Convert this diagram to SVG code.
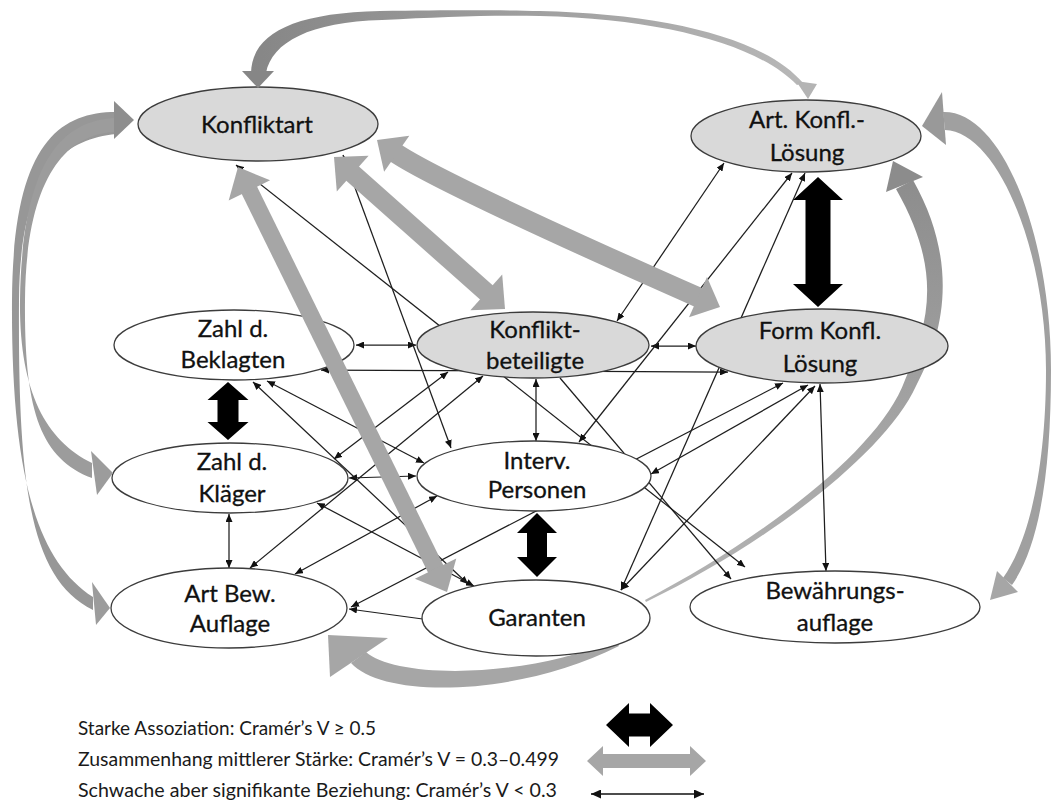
<svg xmlns="http://www.w3.org/2000/svg" width="1053" height="809" viewBox="0 0 1053 809">
  <defs>
    <style>
      .node ellipse { stroke: #3c3c3c; stroke-width: 1.3; }
      .grey ellipse { fill: #d9d9d9; }
      .white ellipse { fill: #ffffff; }
      .lbl { font-family: Lato, "Open Sans", "Liberation Sans", sans-serif; font-size: 24px; fill: #111; stroke: #111; stroke-width: 0.3; text-anchor: middle; }
      .leg { font-family: Lato, "Open Sans", "Liberation Sans", sans-serif; font-size: 18.5px; fill: #1a1a1a; }
      .thin { stroke: #1e1e1e; stroke-width: 1.25; fill: none; }
      .both { marker-start: url(#ah); marker-end: url(#ah); }
      .tip { marker-end: url(#ah); }
      .band { fill: #a6a6a6; }
      .bandline { stroke: #a6a6a6; fill: none; }
      .blk { fill: #000; }
    </style>
    <marker id="ah" viewBox="0 0 8 7" refX="8" refY="3.5" markerWidth="8" markerHeight="7" markerUnits="userSpaceOnUse" orient="auto-start-reverse">
      <path d="M0,0 L8,3.5 L0,7 Z" fill="#111"/>
    </marker>
    <marker id="ahl" viewBox="0 0 10 9" refX="10" refY="4.5" markerWidth="10" markerHeight="9" markerUnits="userSpaceOnUse" orient="auto-start-reverse">
      <path d="M0,0 L10,4.5 L0,9 Z" fill="#111"/>
    </marker>
    <linearGradient id="topArc" gradientUnits="userSpaceOnUse" x1="250" y1="0" x2="810" y2="0">
      <stop offset="0" stop-color="#868686"/>
      <stop offset="1" stop-color="#b8b8b8"/>
    </linearGradient>
    <linearGradient id="innerArc" gradientUnits="userSpaceOnUse" x1="0" y1="170" x2="0" y2="600">
      <stop offset="0" stop-color="#8c8c8c"/>
      <stop offset="1" stop-color="#b4b4b4"/>
    </linearGradient>
  </defs>

  <rect width="1053" height="809" fill="#ffffff"/>

  <!-- connectors drawn beneath the ellipses -->
  <g id="connectors">
    <!-- curved band Garanten -> Art. Konfl.-Lösung (passes behind Form Konfl. Lösung) -->
    <path d="M 645,600 C 760,540 880,450 905,380 C 930,320 942,270 896,189 L 913,180 C 958,260 946,330 916,386 C 886,452 770,542 646,602 Z" fill="url(#innerArc)"/>
    <!-- curved band Garanten -> Art Bew. Auflage -->
    <path d="M 366,652 C 395,678 520,680 616,640 L 619,646 C 520,696 385,700 351,663 Z" class="band"/>

    <!-- weak associations -->
    <line class="thin both" x1="356" y1="345" x2="416" y2="345"/>
    <line class="thin both" x1="651" y1="346" x2="696" y2="346"/>
    <line class="thin both" x1="349" y1="478" x2="416" y2="476"/>
    <line class="thin both" x1="229" y1="514" x2="229" y2="568"/>
    <line class="thin both" x1="536" y1="379" x2="536" y2="441"/>
    <line class="thin both" x1="820" y1="384" x2="826" y2="571"/>
    <line class="thin tip" x1="430" y1="620" x2="349" y2="609"/>
    <line class="thin both" x1="321" y1="370" x2="728" y2="372"/>
    <line class="thin both" x1="236" y1="165" x2="745" y2="567"/>
    <line class="thin both" x1="343" y1="155" x2="451" y2="448"/>
    <line class="thin both" x1="724" y1="163" x2="617" y2="321"/>
    <line class="thin both" x1="792" y1="173" x2="579" y2="442"/>
    <line class="thin both" x1="805" y1="173" x2="621" y2="590"/>
    <line class="thin both" x1="351" y1="607" x2="783" y2="383"/>
    <line class="thin both" x1="651" y1="474" x2="808" y2="385"/>
    <line class="thin both" x1="621" y1="590" x2="815" y2="386"/>
    <line class="thin tip" x1="560" y1="378" x2="731" y2="579"/>
    <line class="thin both" x1="267" y1="381" x2="424" y2="463"/>
    <line class="thin both" x1="253" y1="382" x2="468" y2="584"/>
    <line class="thin both" x1="334" y1="459" x2="448" y2="372"/>
    <line class="thin both" x1="317" y1="503" x2="474" y2="586"/>
    <line class="thin both" x1="250" y1="568" x2="483" y2="376"/>
    <line class="thin both" x1="295" y1="574" x2="437" y2="496"/>
  </g>

  <!-- nodes -->
  <g id="konfliktart" class="node grey">
    <ellipse cx="258" cy="124" rx="120" ry="37"/>
    <text class="lbl" x="257" y="133">Konfliktart</text>
  </g>
  <g id="art-konfl-loesung" class="node grey">
    <ellipse cx="806" cy="136" rx="115" ry="36"/>
    <text class="lbl" x="807" y="128">Art. Konfl.-</text>
    <text class="lbl" x="807" y="161">Lösung</text>
  </g>
  <g id="zahl-beklagten" class="node white">
    <ellipse cx="234" cy="345" rx="120" ry="35"/>
    <text class="lbl" x="233" y="337">Zahl d.</text>
    <text class="lbl" x="233" y="368">Beklagten</text>
  </g>
  <g id="konfliktbeteiligte" class="node grey">
    <ellipse cx="533" cy="345" rx="116" ry="33"/>
    <text class="lbl" x="535" y="338">Konflikt-</text>
    <text class="lbl" x="535" y="369">beteiligte</text>
  </g>
  <g id="form-konfl-loesung" class="node grey">
    <ellipse cx="822" cy="346" rx="126" ry="37"/>
    <text class="lbl" x="820" y="339">Form Konfl.</text>
    <text class="lbl" x="820" y="372">Lösung</text>
  </g>
  <g id="zahl-klaeger" class="node white">
    <ellipse cx="230" cy="478" rx="118" ry="35"/>
    <text class="lbl" x="232" y="470">Zahl d.</text>
    <text class="lbl" x="232" y="502">Kläger</text>
  </g>
  <g id="interv-personen" class="node white">
    <ellipse cx="534" cy="476" rx="117" ry="35"/>
    <text class="lbl" x="537" y="469">Interv.</text>
    <text class="lbl" x="537" y="498">Personen</text>
  </g>
  <g id="art-bew-auflage" class="node white">
    <ellipse cx="229" cy="608" rx="118" ry="40"/>
    <text class="lbl" x="230" y="602">Art Bew.</text>
    <text class="lbl" x="230" y="632">Auflage</text>
  </g>
  <g id="garanten" class="node white">
    <ellipse cx="536" cy="618" rx="114" ry="38"/>
    <text class="lbl" x="537" y="626">Garanten</text>
  </g>
  <g id="bewaehrungsauflage" class="node white">
    <ellipse cx="835" cy="607" rx="145" ry="36"/>
    <text class="lbl" x="835" y="599">Bewährungs-</text>
    <text class="lbl" x="835" y="631">auflage</text>
  </g>

  <!-- connectors drawn over the ellipses -->
  <g id="connectors-overlay">
    <!-- heads of the two curved bands drawn underneath -->
    <polygon points="893,161 923,177 886,192" fill="#8c8c8c"/>
    <polygon points="328,635 388,638 330,677" class="band"/>

    <!-- top arc Konfliktart <-> Art. Konfl.-Lösung -->
    <path d="M 251,73 C 252,34 292,13 380,11 C 450,10 500,10 540,11 C 665,14 765,38 803,83 L 797,85 C 757,44 662,19 540,16 C 490,15 440,17 382,20 C 310,22 272,42 266,73 Z" fill="url(#topArc)"/>
    <polygon points="242,71 274,71 258,88" fill="#868686"/>
    <polygon points="796,81 817,84 808,99" fill="#b4b4b4"/>

    <!-- left arcs Konfliktart <-> Zahl d. Kläger / Art Bew. Auflage -->
    <path d="M 116,112 C 55,112 13,150 12,300 C 11,470 35,560 93,597 L 93,610 C 28,578 18,480 19,300 C 20,175 60,140 116,134 Z" fill="#979797"/>
    <path d="M 116,118 C 60,120 22,165 20,300 C 19,390 45,440 92,463 L 92,478 C 40,458 24,410 25,300 C 26,180 65,133 116,132 Z" fill="#9c9c9c"/>
    <polygon points="114,101 134,120 114,139" fill="#8e8e8e"/>
    <polygon points="91,451 113,473 97,495" fill="#9c9c9c"/>
    <polygon points="92,582 110,608 96,625" fill="#9c9c9c"/>

    <!-- right arc Art. Konfl.-Lösung <-> Bewährungsauflage -->
    <path d="M 943,112 C 1002,110 1051,235 1051,370 C 1051,470 1040,545 1012,585 L 1003,578 C 1030,540 1046,465 1046,370 C 1046,250 998,132 945,130 Z" fill="#a0a0a0"/>
    <polygon points="922,126 942,92 946,145" fill="#999999"/>
    <polygon points="990,600 997,571 1018,592" fill="#a6a6a6"/>

    <!-- Konfliktart <-> Garanten -->
    <line class="bandline" x1="248.5" y1="188.6" x2="436.5" y2="570.4" stroke-width="17"/>
    <polygon class="band" points="238,167 228.7,200.5 270.1,180.3"/>
    <polygon class="band" points="447,592 414.9,578.7 456.3,558.5"/>

    <!-- Konfliktart <-> Konfliktbeteiligte -->
    <line class="bandline" x1="351.2" y1="172.3" x2="487.8" y2="293.7" stroke-width="19"/>
    <polygon class="band" points="334,157 336.8,191.5 368.6,155.7"/>
    <polygon class="band" points="505,309 470.4,310.3 502.2,274.5"/>

    <!-- Konfliktart <-> Form Konfl. Lösung -->
    <path class="bandline" d="M 395,152.6 Q 440,183 699.8,298" stroke-width="20"/>
    <polygon class="band" points="377,140 384.1,171.8 409.3,135.8"/>
    <polygon class="band" points="720,307 689,317.3 707,277"/>

    <!-- strong associations -->
    <polygon class="blk" points="818,177 843,200 830.5,200 830.5,284 843,284 818,307 793,284 805.5,284 805.5,200 793,200"/>
    <polygon class="blk" points="228,382 248.5,400 238.5,400 238.5,422 248.5,422 228,440 207.5,422 217.5,422 217.5,400 207.5,400"/>
    <polygon class="blk" points="537,513 557,533 547,533 547,557 557,557 537,577 517,557 527,557 527,533 517,533"/>
  </g>

  <!-- legend -->
  <g id="legend">
    <text class="leg" x="78" y="735" textLength="298" lengthAdjust="spacingAndGlyphs">Starke Assoziation: Cramér’s V ≥ 0.5</text>
    <text class="leg" x="78" y="766" textLength="481" lengthAdjust="spacingAndGlyphs">Zusammenhang mittlerer Stärke: Cramér’s V = 0.3–0.499</text>
    <text class="leg" x="78" y="797" textLength="479" lengthAdjust="spacingAndGlyphs">Schwache aber signifikante Beziehung: Cramér’s V &lt; 0.3</text>
    <polygon class="blk" points="606,725 629,703 629,713.5 650,713.5 650,703 673,725 650,747 650,736.5 629,736.5 629,747"/>
    <polygon class="band" points="587,761 603,746 603,754 690,754 690,746 706,761 690,776 690,768 603,768 603,776"/>
    <line x1="591" y1="794" x2="704" y2="794" stroke="#111" stroke-width="1.5" marker-start="url(#ahl)" marker-end="url(#ahl)"/>
  </g>
</svg>
